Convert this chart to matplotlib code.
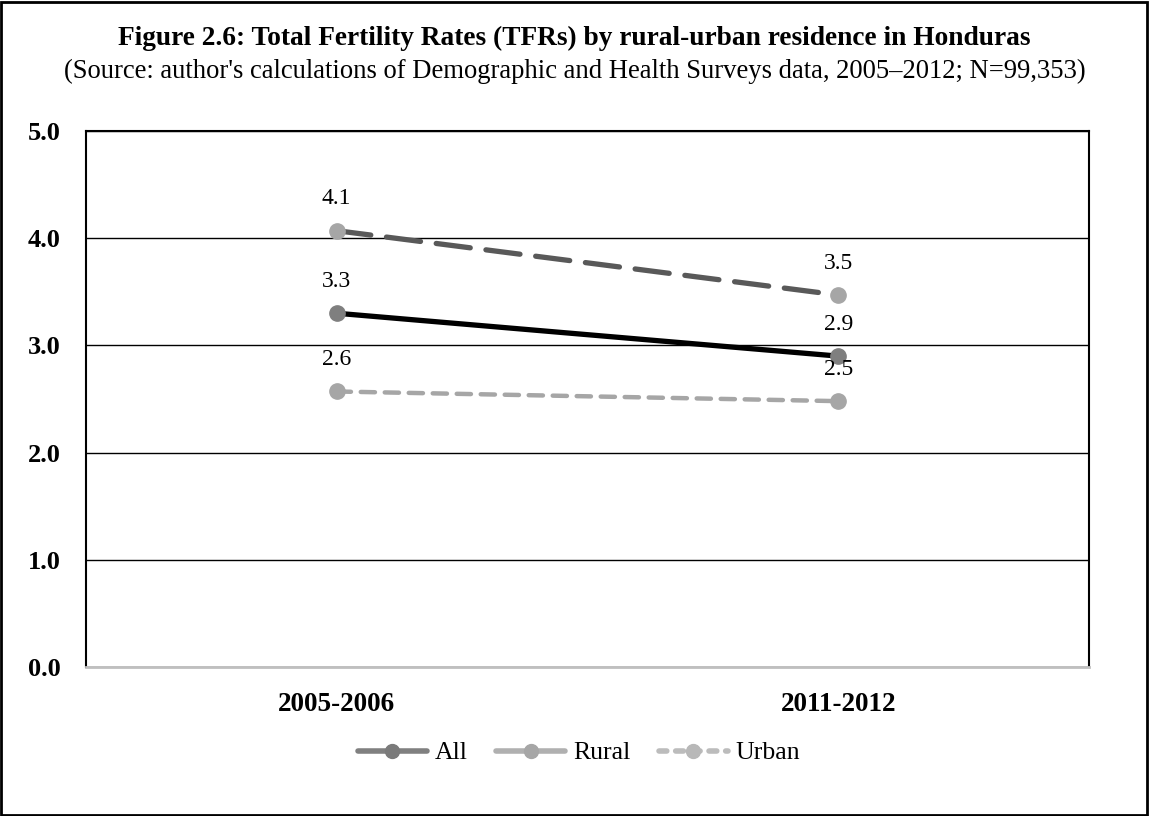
import matplotlib
matplotlib.use("Agg")
import matplotlib.pyplot as plt
from matplotlib.lines import Line2D
from matplotlib.patches import Rectangle

plt.rcParams['font.family'] = ['Liberation Serif', 'DejaVu Serif']

periods = ["2005-2006", "2011-2012"]
tfr_all = [3.30, 2.90]
tfr_rural = [4.07, 3.47]
tfr_urban = [2.57, 2.48]
yticks = [0.0, 1.0, 2.0, 3.0, 4.0, 5.0]

title = "Figure 2.6: Total Fertility Rates (TFRs) by rural-urban residence in Honduras"
subtitle = ("(Source: author's calculations of Demographic and Health Surveys data, "
            "2005\u20132012; N=99,353)")

W, H = 1149, 816
fig = plt.figure(figsize=(W / 100, H / 100), dpi=100)
ax = fig.add_axes([86 / W, (H - 667) / H, 1003 / W, 536 / H])

x = list(range(len(periods)))

# Series lines
ax.plot(x, tfr_rural, color="#595959", lw=3.8, dashes=(6.5, 3), solid_capstyle="round",
        dash_capstyle="round", marker="o", ms=11, mfc="#a6a6a6", mec="#a6a6a6", zorder=4)
ax.plot(x, tfr_all, color="#000000", lw=3.8, solid_capstyle="round",
        marker="o", ms=11, mfc="#7f7f7f", mec="#7f7f7f", zorder=5)
ax.plot(x, tfr_urban, color="#a6a6a6", lw=3.2, dashes=(3.2, 2.2), dash_capstyle="round",
        marker="o", ms=11, mfc="#a6a6a6", mec="#a6a6a6", zorder=3)

# Value labels above the markers
for series in (tfr_rural, tfr_all, tfr_urban):
    for xi, v in zip(x, series):
        ax.annotate(f"{v:.1f}", (xi, v), xytext=(0, 23), textcoords="offset points",
                    ha="center", va="center", fontsize=17, zorder=6)

ax.set_xlim(-0.5, 1.5)
ax.set_ylim(0, 5)
ax.set_yticks(yticks)
ax.set_yticklabels([f"{t:.1f}" for t in yticks], fontsize=19, fontweight="bold")
ax.set_xticks(x)
ax.set_xticklabels(periods, fontsize=19.5, fontweight="bold")
ax.tick_params(axis="both", length=0)
ax.tick_params(axis="y", pad=18.5)
ax.tick_params(axis="x", pad=18)
ax.yaxis.grid(True, color="#000000", lw=1.0)
ax.set_axisbelow(True)
for side in ("left", "top", "right"):
    ax.spines[side].set_color("#000000")
    ax.spines[side].set_linewidth(1.5)
ax.spines["bottom"].set_color("#bfbfbf")
ax.spines["bottom"].set_linewidth(2)

# Legend
handles = [
    Line2D([], [], color="#808080", lw=4, solid_capstyle="round", marker="o", ms=10,
           mfc="#7a7a7a", mec="#7a7a7a"),
    Line2D([], [], color="#b0b0b0", lw=4, solid_capstyle="round", marker="o", ms=10,
           mfc="#a6a6a6", mec="#a6a6a6"),
    Line2D([], [], color="#bcbcbc", lw=4, dashes=(1.4, 1.6), dash_capstyle="round",
           marker="o", ms=10, mfc="#b8b8b8", mec="#b8b8b8"),
]
fig.legend(handles, ["All", "Rural", "Urban"], loc="center", ncol=3,
           bbox_to_anchor=(579 / W, (H - 753) / H), frameon=False, fontsize=18.5,
           handlelength=2.7, handletextpad=0.3, columnspacing=1.1)

fig.text(0.5, (H - 38) / H, title, ha="center", va="center", fontsize=19.7,
         fontweight="bold")
fig.text(0.5, (H - 71) / H, subtitle, ha="center", va="center", fontsize=19.2)

fig.patches.append(Rectangle((0.001, 0.001), 0.997, 0.997, transform=fig.transFigure,
                             fill=False, ec="#000000", lw=2))

fig.savefig("out.png", dpi=100, facecolor="white")
